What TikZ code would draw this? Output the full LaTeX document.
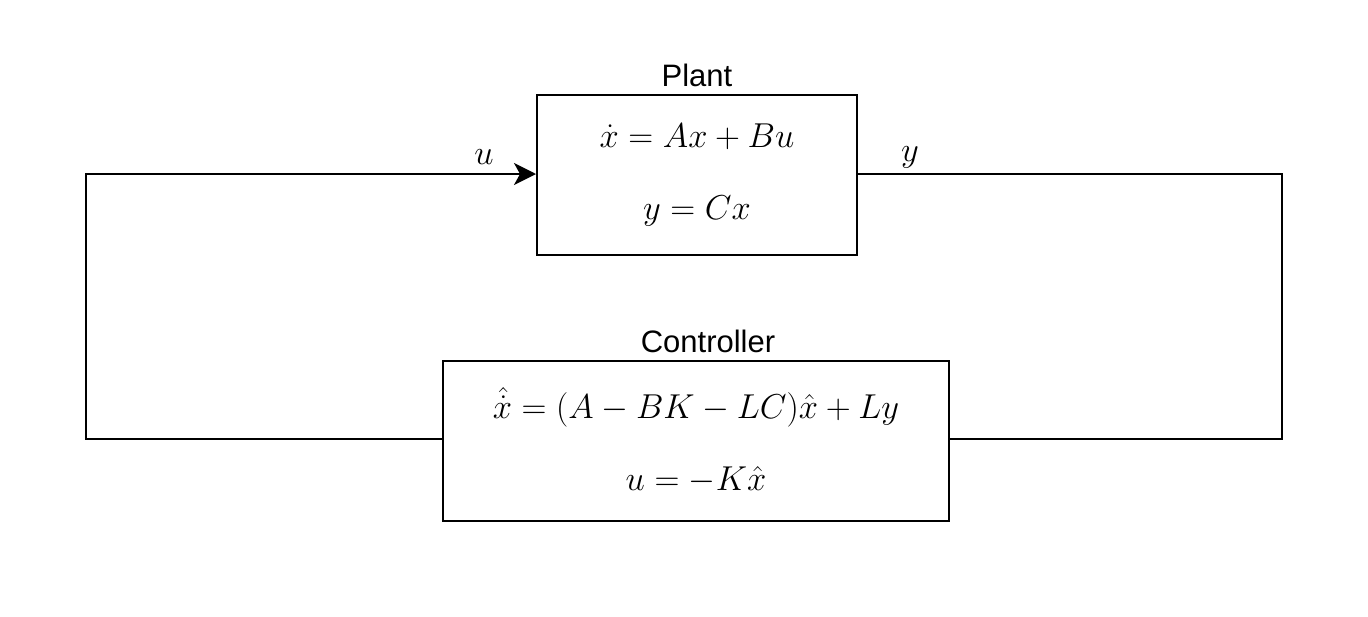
\documentclass[tikz,border=0pt]{standalone}
\usepackage{amsmath}
\usepackage{fontspec}
\setsansfont{Liberation Sans}
\usetikzlibrary{arrows.meta, positioning}

\begin{document}
\begin{tikzpicture}[
    x=0.5pt, y=-0.5pt,
    blk/.style={draw, line width=1pt, minimum height=80pt, align=center,
                font=\fontsize{19}{36}\selectfont},
    ttl/.style={font=\sffamily\fontsize{15.5}{18}\selectfont},
    sig/.style={line width=1pt},
    lbl/.style={font=\fontsize{19}{22}\selectfont}
  ]
  \useasboundingbox (0,0) rectangle (1368,616);
  % blocks
  \node[blk, minimum width=160pt] (plant) at (697,175)
    {$\dot{x} = Ax + Bu$\\ $y = Cx$};
  \node[blk, minimum width=253pt] (ctrl) at (696,440.5)
    {$\hat{\dot{x}} = (A - BK - LC)\hat{x} + Ly$\\ $u = -K\hat{x}$};
  \node[ttl, above=0pt of plant] (plantT) {Plant};
  \node[ttl, above=0pt of ctrl, xshift=6pt] (ctrlT) {Controller};
  % corners of the loop
  \coordinate (ul) at (86,174);
  \coordinate (ll) at (86,439);
  \coordinate (ur) at (1282,174);
  \coordinate (lr) at (1282,439);
  % signals
  \draw[sig, -{Stealth[length=11pt, width=11pt, inset=3pt]}]
    (ctrl.west |- ll) -- (ll) -- (ul) -- (plant.west |- ul);
  \draw[sig] (plant.east |- ur) -- (ur) -- (lr) -- (ctrl.east |- lr);
  \node[lbl] (uL) at (484,157) {$u$};
  \node[lbl] (yL) at (910,157) {$y$};
\end{tikzpicture}
\end{document}
